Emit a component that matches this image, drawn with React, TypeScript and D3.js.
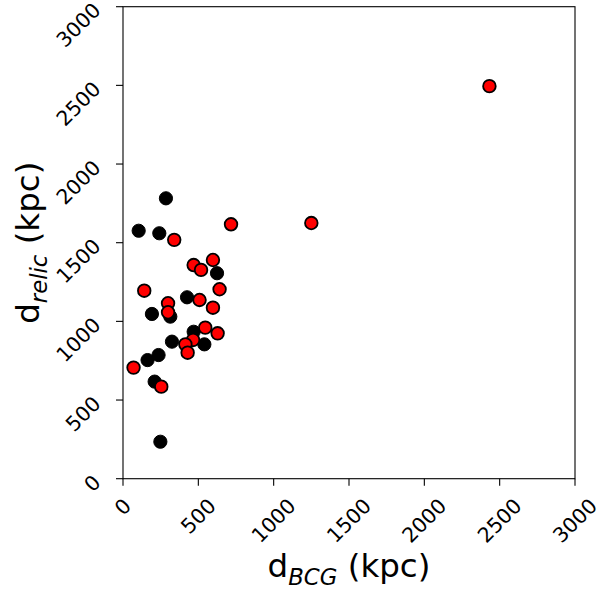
import React from "react";
import * as d3 from "d3";

const W = 598;
const H = 594;

// Black markers
const blackX = [285, 104, 241, 624, 425, 192, 314, 325, 469, 540, 236, 163, 210, 248];
const blackY = [1782, 1576, 1560, 1306, 1153, 1047, 1030, 871, 934, 854, 786, 754, 617, 235];

// Red markers
const redX = [717, 340, 597, 469, 518, 641, 141, 508, 597, 299, 299, 546, 628, 465, 414, 429, 70, 254, 1250, 2432];
const redY = [1617, 1518, 1390, 1358, 1327, 1204, 1195, 1136, 1087, 1115, 1058, 960, 924, 882, 854, 801, 706, 585, 1625, 2495];

const xTicks = [0, 500, 1000, 1500, 2000, 2500, 3000];
const yTicks = [0, 500, 1000, 1500, 2000, 2500, 3000];

const FONT = "DejaVu Sans";
const TICK_FS = 20.5;
const LABEL_FS = 32.5;

export default function App() {
  const x = d3.scaleLinear().domain([0, 3000]).range([123, 575]);
  const y = d3.scaleLinear().domain([0, 3000]).range([478.7, 6.7]);
  const [x0, x1] = x.range();
  const [y0, y1] = y.range();

  const textW = (s: string) => s.length * 0.636 * TICK_FS;

  return (
    <svg
      width={W}
      height={H}
      style={{ position: "absolute", left: 0, top: 0, background: "#fff" }}
      fontFamily={FONT}
    >
      <rect x={0} y={0} width={W} height={H} fill="#fff" />
      {/* markers */}
      {blackX.map((v, i) => (
        <circle key={"b" + i} cx={x(v)} cy={y(blackY[i])} r={6.6} fill="#000" stroke="#000" strokeWidth={1} />
      ))}
      {redX.map((v, i) => (
        <circle key={"r" + i} cx={x(v)} cy={y(redY[i])} r={6.3} fill="#ff0000" stroke="#000" strokeWidth={1.8} />
      ))}
      {/* spines */}
      <rect x={x0} y={y1} width={x1 - x0} height={y0 - y1} fill="none" stroke="#000" strokeWidth={1.1} />
      {/* x ticks */}
      {xTicks.map((t) => {
        const s = String(t);
        const w = textW(s) - 0.14 * TICK_FS;
        const cy = 498 + (w + 0.73 * TICK_FS) / 2.83;
        return (
          <g key={"xt" + t}>
            <line x1={x(t)} x2={x(t)} y1={y0} y2={y0 + 7} stroke="#000" strokeWidth={1.1} />
            <text
              transform={`translate(${x(t)},${cy}) rotate(-45)`}
              textAnchor="middle"
              dominantBaseline="central"
              fontSize={TICK_FS}
              fill="#000"
            >
              {s}
            </text>
          </g>
        );
      })}
      {/* y ticks */}
      {yTicks.map((t) => (
        <g key={"yt" + t}>
          <line x1={x0 - 7} x2={x0} y1={y(t)} y2={y(t)} stroke="#000" strokeWidth={1.1} />
          <text
            transform={`translate(97,${y(t)}) rotate(-45)`}
            textAnchor="end"
            dominantBaseline="central"
            fontSize={TICK_FS}
            fill="#000"
          >
            {String(t)}
          </text>
        </g>
      ))}
      {/* x label */}
      <text x={(x0 + x1) / 2} y={577} textAnchor="middle" fontSize={LABEL_FS} fill="#000">
        d
        <tspan fontStyle="italic" fontSize={LABEL_FS * 0.7} dy={LABEL_FS * 0.24}>BCG</tspan>
        <tspan dy={-LABEL_FS * 0.24}>{"\u00a0(kpc)"}</tspan>
      </text>
      {/* y label */}
      <text
        transform={`translate(39,${(y0 + y1) / 2}) rotate(-90)`}
        textAnchor="middle"
        fontSize={LABEL_FS}
        fill="#000"
      >
        d
        <tspan fontStyle="italic" fontSize={LABEL_FS * 0.7} dy={LABEL_FS * 0.24}>relic</tspan>
        <tspan dy={-LABEL_FS * 0.24}>{"\u00a0(kpc)"}</tspan>
      </text>
    </svg>
  );
}
